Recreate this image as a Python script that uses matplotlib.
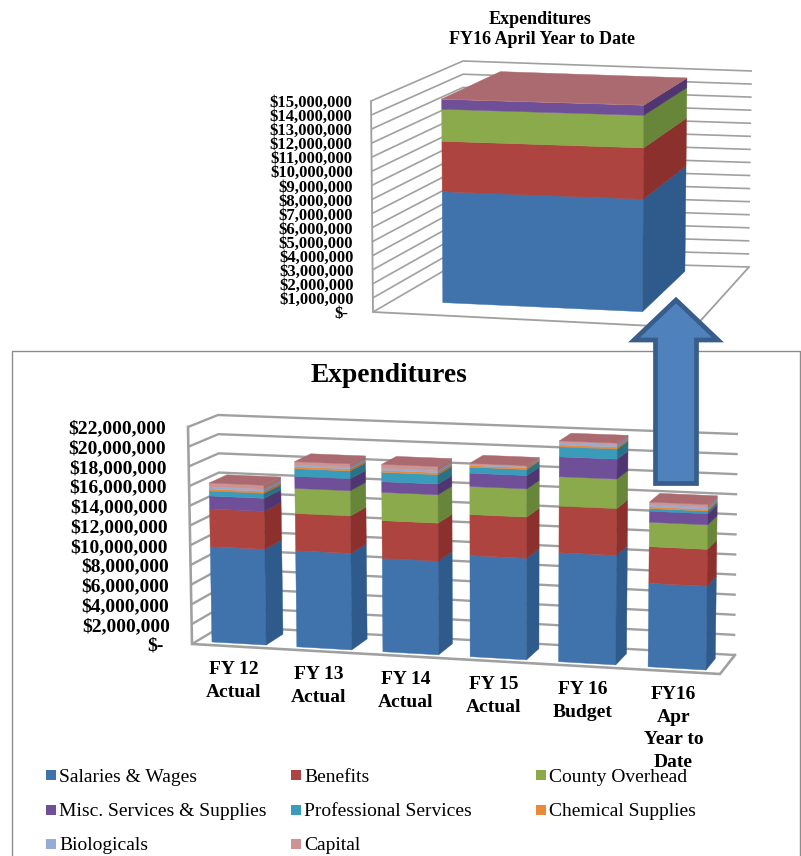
import matplotlib
matplotlib.use('Agg')
import matplotlib.pyplot as plt
from matplotlib.patches import Polygon, Rectangle

# values, in millions of dollars
series_names = ['Salaries & Wages', 'Benefits', 'County Overhead',
                'Misc. Services & Supplies', 'Professional Services', 'Chemical Supplies',
                'Biologicals', 'Capital']
categories = ['FY 12\nActual', 'FY 13\nActual', 'FY 14\nActual', 'FY 15\nActual',
              'FY 16\nBudget', 'FY16\nApr\nYear to\nDate']

salaries = [9.69, 9.70, 9.35, 10.05, 10.75, 8.17]
benefits = [3.84, 3.76, 3.78, 4.08, 4.60, 3.59]
overhead = [0.0, 2.53, 2.83, 2.79, 2.90, 2.39]
misc = [1.32, 1.21, 1.07, 1.32, 1.96, 1.08]
professional = [0.51, 0.78, 0.94, 0.60, 0.99, 0.26]
chemical = [0.20, 0.20, 0.20, 0.16, 0.19, 0.17]
biologicals = [0.21, 0.17, 0.20, 0.10, 0.24, 0.22]
capital = [0.40, 0.34, 0.40, 0.13, 0.16, 0.25]

all_series = [salaries, benefits, overhead, misc, professional, chemical, biologicals, capital]

ytd_series = [[7.96], [3.62], [2.30], [0.72], [0.0], [0.0], [0.0], [0.02]]

ticks_main = list(range(0, 23, 2))
ticks_ytd = list(range(0, 16, 1))

front_colors = ['#4072AC', '#AE443F', '#8AAA4B', '#6F4F97', '#3A9BBB', '#E88A3A', '#95ADD5', '#CD9292']
side_colors = ['#2E5A8C', '#8B302D', '#68863A', '#4F3671', '#2A7186', '#B56A2A', '#7088AE', '#A06C6C']
top_color = '#AA6A70'
grid_color = '#A0A0A0'

# pixel corners of the 3d box: front/back, left/right, bottom/top
main_box = {'flb': (192, 644), 'frb': (720, 674), 'blb': (222, 626), 'brb': (735, 655),
            'flt': (188, 427), 'frt': (723, 447), 'blt': (218, 415), 'brt': (738, 434)}
ytd_box = {'flb': (373, 312), 'frb': (694, 328), 'blb': (464, 259), 'brb': (749, 267),
           'flt': (371, 101), 'frt': (696, 110), 'blt': (463, 61), 'brt': (752, 71)}


def project(box, t, v, d):
    # trilinear position in the box, t across, v up, d into the page (all 0-1)
    names = ['lb', 'rb', 'lt', 'rt']
    weights = [(1 - t) * (1 - v), t * (1 - v), (1 - t) * v, t * v]
    x = 0
    y = 0
    for name, w in zip(names, weights):
        front = box['f' + name]
        back = box['b' + name]
        x += w * (front[0] * (1 - d) + back[0] * d)
        y += w * (front[1] * (1 - d) + back[1] * d)
    return x, y


def money(value):
    if value == 0:
        return '$-'
    return '${:,}'.format(value * 1000000)


def draw_walls(ax, box, ticks, lw):
    vmax = ticks[-1]
    for tick in ticks:
        v = tick / vmax
        p = [project(box, 0, v, 0), project(box, 0, v, 1), project(box, 1, v, 1)]
        ax.plot([q[0] for q in p], [q[1] for q in p], color=grid_color, lw=lw, zorder=1,
                solid_capstyle='butt', solid_joinstyle='miter')
    # front edge of the left wall and the floor outline
    p = [project(box, 0, 1, 0), project(box, 0, 0, 0), project(box, 1, 0, 0), project(box, 1, 0, 1)]
    ax.plot([q[0] for q in p], [q[1] for q in p], color=grid_color, lw=lw * 1.1, zorder=1,
            solid_joinstyle='miter')


def draw_bars(ax, box, series, vmax, warp, width, shift, d0, d1):
    n = len(series[0])

    def warped(t):
        return t + warp * t * (t - 1)

    for i in range(n):
        t0 = warped((i + 0.5 - width / 2) / n + shift)
        t1 = warped((i + 0.5 + width / 2) / n + shift)
        base = 0
        for s, values in enumerate(series):
            top = base + values[i]
            v0 = base / vmax
            v1 = top / vmax
            if values[i] > 0:
                face = [project(box, t0, v0, d0), project(box, t1, v0, d0),
                        project(box, t1, v1, d0), project(box, t0, v1, d0)]
                side = [project(box, t1, v0, d0), project(box, t1, v0, d1),
                        project(box, t1, v1, d1), project(box, t1, v1, d0)]
                ax.add_patch(Polygon(face, closed=True, fc=front_colors[s], ec=front_colors[s], lw=0.3, zorder=3))
                ax.add_patch(Polygon(side, closed=True, fc=side_colors[s], ec=side_colors[s], lw=0.3, zorder=3))
            base = top
        v = base / vmax
        lid = [project(box, t0, v, d0), project(box, t1, v, d0),
               project(box, t1, v, d1), project(box, t0, v, d1)]
        ax.add_patch(Polygon(lid, closed=True, fc=top_color, ec=top_color, lw=0.3, zorder=3))


def draw_tick_labels(ax, box, ticks, gap, size):
    vmax = ticks[-1]
    for tick in ticks:
        x, y = project(box, 0, tick / vmax, 0)
        offset = gap + 6 if tick == 0 else gap
        ax.text(x - offset, y + 2, money(tick), ha='right', va='center', fontsize=size, fontweight='bold')


plt.rcParams['font.family'] = ['Liberation Serif', 'DejaVu Serif']

fig = plt.figure(figsize=(8.01, 8.56), dpi=100)
ax = fig.add_axes([0, 0, 1, 1])
ax.set_xlim(0, 801)
ax.set_ylim(856, 0)
ax.axis('off')

# frame of the lower chart
ax.plot([12, 12, 800, 800], [856, 351, 351, 856], color='#8C8C8C', lw=1.0, zorder=0)

# upper chart
ax.text(540, 19, 'Expenditures', ha='center', va='center', fontsize=13, fontweight='bold')
ax.text(542, 39, 'FY16 April Year to Date', ha='center', va='center', fontsize=13, fontweight='bold')
draw_walls(ax, ytd_box, ticks_ytd, 1.2)
draw_bars(ax, ytd_box, ytd_series, ticks_ytd[-1], 0.0, 0.638, -0.022, 0.22, 0.9)
draw_tick_labels(ax, ytd_box, ticks_ytd, 19, 12)

# lower chart
ax.text(389, 375, 'Expenditures', ha='center', va='center', fontsize=19.8, fontweight='bold')
draw_walls(ax, main_box, ticks_main, 1.7)
draw_bars(ax, main_box, all_series, ticks_main[-1], 0.04, 0.64, 0.0, 0.16, 0.76)
draw_tick_labels(ax, main_box, ticks_main, 22, 14)

for i, label in enumerate(categories):
    t = (i + 0.5) / len(categories)
    x, y = project(main_box, t + 0.04 * t * (t - 1), 0, 0)
    ax.text(x - 1, y + 15, label, ha='center', va='top', fontsize=14, fontweight='bold', linespacing=1.42)

# legend, three columns
legend_x = [46, 291, 536]
legend_y = [775, 810, 844]
for i, name in enumerate(series_names):
    x = legend_x[i % 3]
    y = legend_y[i // 3]
    ax.add_patch(Rectangle((x, y - 5), 10, 10, fc=front_colors[i], ec='none', zorder=4))
    ax.text(x + 13, y + 2, name, ha='left', va='center', fontsize=14, zorder=4)

# arrow from the year to date bar up to the upper chart
arrow = [(655.5, 483.5), (655.5, 340), (634, 340), (676, 300), (718, 340), (696.5, 340), (696.5, 483.5)]
ax.add_patch(Polygon(arrow, closed=True, fc='#4F81BD', ec='#385D8A', lw=3.4, zorder=5, joinstyle='miter'))

fig.savefig('out.png', dpi=100)
